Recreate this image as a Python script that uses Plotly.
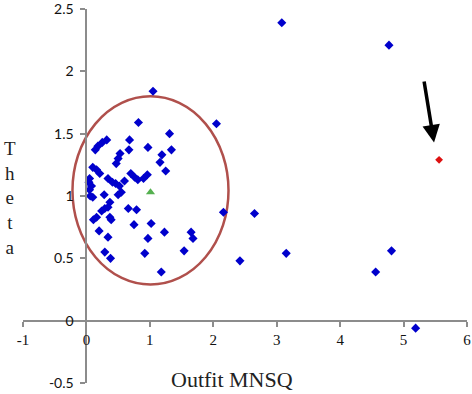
import plotly.graph_objects as go

# ---- data ----
outfit_blue = [1.05, 0.82, 2.05, 1.31, 0.68, 0.32, 0.25, 0.18, 0.14, 0.67,
               0.97, 1.34, 1.19, 1.16, 0.53, 0.50, 0.47, 1.25, 0.10, 0.16,
               0.21, 0.70, 0.76, 0.81, 0.90, 0.96, 0.34, 0.41, 0.46, 0.52,
               0.60, 0.05, 0.04, 0.08, 0.05, 0.06, 0.10, 0.28, 0.50, 0.55,
               0.37, 0.24, 0.29, 0.34, 0.11, 0.16, 0.37, 0.39, 0.66, 0.79,
               0.75, 1.02, 0.20, 0.34, 1.23, 0.97, 1.65, 1.68, 1.54, 0.29,
               0.38, 0.92, 1.18, 2.16,
               3.08, 4.77, 2.65, 2.42, 3.15, 4.56, 4.81, 5.19]
theta_blue = [1.84, 1.59, 1.58, 1.50, 1.45, 1.45, 1.43, 1.40, 1.37, 1.37,
              1.39, 1.37, 1.33, 1.27, 1.34, 1.30, 1.26, 1.20, 1.23, 1.21,
              1.18, 1.18, 1.15, 1.13, 1.14, 1.17, 1.14, 1.11, 1.10, 1.08,
              1.12, 1.14, 1.11, 1.08, 1.05, 1.00, 0.99, 1.01, 1.01, 1.03,
              0.95, 0.88, 0.90, 0.91, 0.81, 0.83, 0.83, 0.81, 0.90, 0.89,
              0.77, 0.78, 0.72, 0.67, 0.71, 0.66, 0.71, 0.66, 0.56, 0.55,
              0.50, 0.54, 0.39, 0.87,
              2.39, 2.21, 0.86, 0.48, 0.54, 0.39, 0.56, -0.06]

outfit_red = [5.56]
theta_red = [1.29]

outfit_mean = [1.01]
theta_mean = [1.03]

# ellipse bounds (data units) and arrow (tail -> tip)
ellipse_x = [-0.22, 2.24]
ellipse_y = [0.29, 1.80]
arrow_tail = [5.32, 1.93]
arrow_tip = [5.48, 1.43]

x_ticks = [-1, 0, 1, 2, 3, 4, 5, 6]
x_ticklabels = ["-1", "0", "1", "2", "3", "4", "5", "6"]
y_ticks = [-0.5, 0, 0.5, 1, 1.5, 2, 2.5]
y_ticklabels = ["-0.5", "0", "0.5", "1", "1.5", "2", "2.5"]

x_range = [-1, 6]
y_range = [-0.5, 2.5]

fig = go.Figure()
fig.add_trace(go.Scatter(x=outfit_blue, y=theta_blue, mode="markers",
                         marker=dict(symbol="diamond", size=7, color="#0000cc"),
                         showlegend=False, cliponaxis=False))
fig.add_trace(go.Scatter(x=outfit_mean, y=theta_mean, mode="markers",
                         marker=dict(symbol="triangle-up", size=8, color="#55b04f"),
                         showlegend=False))
fig.add_trace(go.Scatter(x=outfit_red, y=theta_red, mode="markers",
                         marker=dict(symbol="diamond", size=6, color="#dd1111"),
                         showlegend=False))

fig.add_shape(type="circle", xref="x", yref="y",
              x0=ellipse_x[0], x1=ellipse_x[1], y0=ellipse_y[0], y1=ellipse_y[1],
              line=dict(color="#b0504c", width=2.5), layer="below")

fig.add_annotation(x=arrow_tip[0], y=arrow_tip[1], ax=arrow_tail[0], ay=arrow_tail[1],
                   xref="x", yref="y", axref="x", ayref="y", text="",
                   showarrow=True, arrowhead=2, arrowsize=1, arrowwidth=3.5,
                   arrowcolor="black", standoff=0)

fig.add_annotation(text="T<br>h<br>e<br>t<br>a", xref="paper", yref="paper",
                   x=-0.029, y=0.495, xanchor="center", yanchor="middle",
                   showarrow=False, align="center",
                   font=dict(family="Liberation Serif", size=19, color="#222"))
fig.add_annotation(text="Outfit MNSQ", xref="paper", yref="paper",
                   x=0.471, y=0.010, xanchor="center", yanchor="middle",
                   showarrow=False,
                   font=dict(family="Liberation Serif", size=22, color="#222"))

axis_common = dict(showgrid=False, zeroline=False, showline=True,
                   linecolor="#8c8c8c", linewidth=2, ticks="outside",
                   tickcolor="#8c8c8c", ticklen=5, tickwidth=1.5,
                   automargin=False, ticklabeloverflow="allow")

fig.update_layout(
    width=472, height=394,
    margin=dict(l=23, r=5, t=9, b=11),
    paper_bgcolor="white", plot_bgcolor="white",
    xaxis=dict(range=x_range, tickvals=x_ticks, ticktext=x_ticklabels,
               anchor="free", position=(0 - y_range[0]) / (y_range[1] - y_range[0]),
               tickfont=dict(family="Liberation Serif", size=15, color="#111"),
               **axis_common),
    yaxis=dict(range=y_range, tickvals=y_ticks, ticktext=y_ticklabels,
               anchor="free", position=(0 - x_range[0]) / (x_range[1] - x_range[0]),
               tickfont=dict(family="Lato", size=14, color="#111"),
               ticklabelstandoff=4,
               **axis_common),
)

# remove the browser's default 8px body margin so the figure fills the window
fig.write_html("out.html",
               config={"displayModeBar": False},
               post_script="document.body.style.margin='0px';document.body.style.overflow='hidden';")
